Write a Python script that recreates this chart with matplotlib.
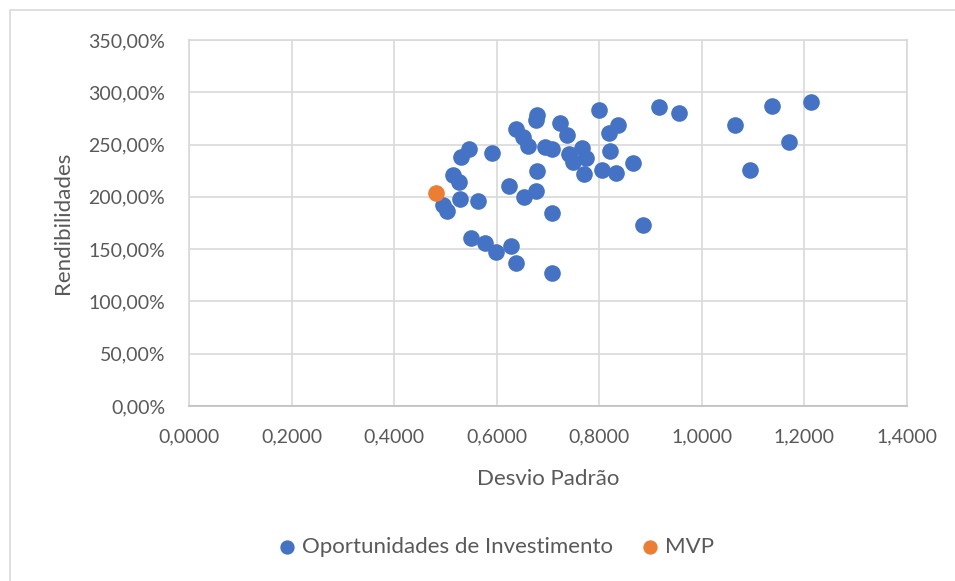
import matplotlib.pyplot as plt
from matplotlib.patches import Rectangle
from matplotlib.ticker import FuncFormatter, MultipleLocator

# desvio padrao / rendibilidade (%) das oportunidades de investimento
desvio = [0.800, 0.917, 0.956, 0.678, 0.676, 0.723, 0.836, 0.818, 0.637, 0.737,
          0.652, 0.661, 0.695, 0.708, 0.546, 0.530, 0.591, 0.767, 0.741, 0.749,
          0.775, 0.820, 0.865, 0.806, 0.833, 0.770, 0.678, 0.514, 0.526, 0.624,
          0.677, 0.654, 0.529, 0.564, 0.496, 0.503, 0.708, 0.885, 0.550, 0.578,
          0.599, 0.627, 0.638, 0.708, 1.065, 1.136, 1.213, 1.169, 1.094]
rendib = [283.0, 285.6, 280.1, 278.2, 273.4, 270.8, 268.9, 260.7, 264.5, 259.4,
          256.9, 248.6, 247.9, 245.4, 245.4, 238.3, 241.6, 246.4, 240.9, 233.5,
          236.8, 244.1, 232.0, 225.6, 223.0, 221.8, 224.9, 220.8, 214.4, 210.3,
          205.8, 200.1, 197.6, 196.3, 192.2, 186.7, 184.2, 173.0, 160.3, 155.5,
          147.5, 153.0, 136.4, 126.9, 268.9, 286.8, 290.9, 252.7, 225.6]

mvp_desvio = [0.482]
mvp_rendib = [203.9]

plt.rcParams['font.family'] = ['Lato', 'DejaVu Sans']
txt = '#595959'
grid = '#D9D9D9'

fig = plt.figure(figsize=(9.55, 5.81), dpi=100)
ax = fig.add_axes([189 / 955, 1 - 406 / 581, (907 - 189) / 955, (406 - 40) / 581])

# moldura do grafico
fig.patches.append(Rectangle((10 / 955, -0.1), 2, 1 - 10 / 581 + 0.1,
                             transform=fig.transFigure, fill=False,
                             edgecolor=grid, linewidth=1.2))

ax.scatter(desvio, rendib, s=120, color='#4472C4', edgecolor='#4472C4',
           label='Oportunidades de Investimento', zorder=3)
ax.scatter(mvp_desvio, mvp_rendib, s=120, color='#ED7D31', edgecolor='#ED7D31',
           label='MVP', zorder=3)

ax.set_xlim(0, 1.4)
ax.set_ylim(0, 350)
ax.xaxis.set_major_locator(MultipleLocator(0.2))
ax.yaxis.set_major_locator(MultipleLocator(50))
ax.xaxis.set_major_formatter(FuncFormatter(lambda v, p: f'{v:.4f}'.replace('.', ',')))
ax.yaxis.set_major_formatter(FuncFormatter(lambda v, p: f'{v:.2f}%'.replace('.', ',')))

ax.grid(True, color=grid, linewidth=1.2)
ax.set_axisbelow(True)
for s in ax.spines.values():
    s.set_color(grid)
    s.set_linewidth(1.2)
ax.spines['bottom'].set_color('#BFBFBF')
ax.tick_params(length=0, labelsize=14, labelcolor=txt)
ax.tick_params(axis='y', pad=17)
ax.tick_params(axis='x', pad=16)

ax.set_xlabel('Desvio Padrão', fontsize=16, color=txt, labelpad=17)
ax.set_ylabel('Rendibilidades', fontsize=16, color=txt, labelpad=11)

fig.legend(loc='center', bbox_to_anchor=(496 / 955, 1 - 547 / 581), ncol=2,
           frameon=False, fontsize=16, labelcolor=txt, handlelength=0.8,
           handletextpad=0.25, columnspacing=1.3, markerscale=0.85)

fig.savefig('out.png', dpi=100)
